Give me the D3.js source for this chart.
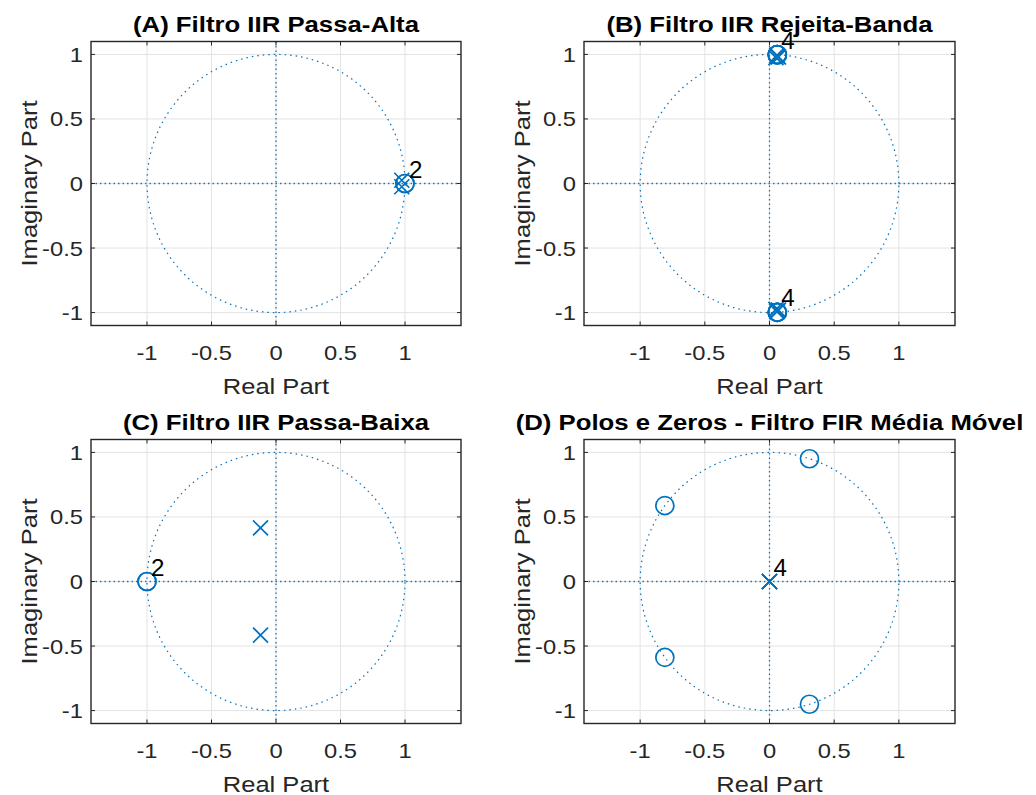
<!DOCTYPE html>
<html>
<head>
<meta charset="utf-8">
<script src="https://cdn.jsdelivr.net/npm/d3@7"></script>
<style>
  html, body { margin: 0; padding: 0; background: #fff; }
  svg { display: block; font-family: "Liberation Sans", Arial, Helvetica, sans-serif; }
</style>
</head>
<body>
<svg id="chart" width="1036" height="795"></svg>
<script>
// Pole-zero maps of four digital filters (zplane style)
const panelTitles = [
  "(A) Filtro IIR Passa-Alta",
  "(B) Filtro IIR Rejeita-Banda",
  "(C) Filtro IIR Passa-Baixa",
  "(D) Polos e Zeros - Filtro FIR Média Móvel"
];

// zeros and poles as [real, imaginary]
const zerosA = [[1, 0], [1, 0]];
const polesA = [[0.975, 0.025], [0.975, -0.025]];

const zerosB = [[0.06, 0.998], [0.06, 0.998], [0.06, 0.998], [0.06, 0.998],
                [0.06, -0.998], [0.06, -0.998], [0.06, -0.998], [0.06, -0.998]];
const polesB = [[0.05, 0.975], [0.07, 0.98], [0.055, 0.99], [0.065, 0.985],
                [0.05, -0.975], [0.07, -0.98], [0.055, -0.99], [0.065, -0.985]];

const zerosC = [[-1, 0], [-1, 0]];
const polesC = [[-0.12, 0.415], [-0.12, -0.415]];

const zerosD = [[0.309, 0.951], [-0.809, 0.588], [-0.809, -0.588], [0.309, -0.951]];
const polesD = [[0, 0], [0, 0], [0, 0], [0, 0]];

const tickValues = [-1, -0.5, 0, 0.5, 1];
const tickLabels = ["-1", "-0.5", "0", "0.5", "1"];
const xLabel = "Real Part";
const yLabel = "Imaginary Part";

const xDomain = [-1.434, 1.434];
const yDomain = [-1.1, 1.1];

const panels = [
  { title: panelTitles[0], zeros: zerosA, poles: polesA, x0: 91,  x1: 461, y0: 41.5,  y1: 325.5 },
  { title: panelTitles[1], zeros: zerosB, poles: polesB, x0: 584, x1: 955, y0: 41.5,  y1: 325.5 },
  { title: panelTitles[2], zeros: zerosC, poles: polesC, x0: 91,  x1: 461, y0: 439.5, y1: 723.5 },
  { title: panelTitles[3], zeros: zerosD, poles: polesD, x0: 584, x1: 955, y0: 439.5, y1: 723.5 }
];

const blue = "#0072BD";
const ink = "#262626";
const svg = d3.select("#chart");

// widen a text element horizontally while keeping its anchor
function widen(sel, k) {
  sel.each(function () {
    const w = this.getComputedTextLength();
    d3.select(this).attr("textLength", w * k).attr("lengthAdjust", "spacingAndGlyphs");
  });
  return sel;
}

function multiplicities(pts) {
  const groups = [];
  pts.forEach(p => {
    const g = groups.find(q => Math.abs(q.p[0] - p[0]) < 1e-6 && Math.abs(q.p[1] - p[1]) < 1e-6);
    if (g) g.n += 1; else groups.push({ p: p, n: 1 });
  });
  return groups.filter(g => g.n > 1);
}

panels.forEach((P, i) => {
  const x = d3.scaleLinear().domain(xDomain).range([P.x0, P.x1]);
  const y = d3.scaleLinear().domain(yDomain).range([P.y1, P.y0]);
  const g = svg.append("g");
  const clipId = "clip" + i;
  svg.append("clipPath").attr("id", clipId)
    .append("rect").attr("x", P.x0).attr("y", P.y0)
    .attr("width", P.x1 - P.x0).attr("height", P.y1 - P.y0);

  // grid
  const grid = g.append("g").attr("stroke", "#e3e3e3").attr("stroke-width", 1);
  tickValues.forEach(t => {
    grid.append("line").attr("x1", x(t)).attr("x2", x(t)).attr("y1", P.y0).attr("y2", P.y1);
    grid.append("line").attr("y1", y(t)).attr("y2", y(t)).attr("x1", P.x0).attr("x2", P.x1);
  });

  const plot = g.append("g").attr("clip-path", `url(#${clipId})`);

  // real and imaginary axis lines
  plot.append("line").attr("x1", P.x0).attr("x2", P.x1).attr("y1", y(0)).attr("y2", y(0))
    .attr("stroke", "#2f6f9f").attr("stroke-width", 1.3).attr("stroke-dasharray", "1.5,3");
  plot.append("line").attr("x1", x(0)).attr("x2", x(0)).attr("y1", P.y0).attr("y2", P.y1)
    .attr("stroke", "#2f6f9f").attr("stroke-width", 1.3).attr("stroke-dasharray", "1.5,3");

  // unit circle
  const circ = d3.range(0, 361, 2).map(a => [Math.cos(a * Math.PI / 180), Math.sin(a * Math.PI / 180)]);
  plot.append("path")
    .attr("d", d3.line().x(d => x(d[0])).y(d => y(d[1]))(circ))
    .attr("fill", "none").attr("stroke", blue).attr("stroke-width", 1.2)
    .attr("stroke-dasharray", "1.5,4");

  // zeros
  plot.selectAll(".zero").data(P.zeros).enter().append("circle")
    .attr("cx", d => x(d[0])).attr("cy", d => y(d[1])).attr("r", 9)
    .attr("fill", "none").attr("stroke", blue).attr("stroke-width", 1.7);

  // poles
  const s = 7.5;
  plot.selectAll(".pole").data(P.poles).enter().append("path")
    .attr("d", d => {
      const cx = x(d[0]), cy = y(d[1]);
      return `M${cx - s},${cy - s}L${cx + s},${cy + s}M${cx - s},${cy + s}L${cx + s},${cy - s}`;
    })
    .attr("fill", "none").attr("stroke", blue).attr("stroke-width", 1.7);

  // box
  g.append("rect").attr("x", P.x0).attr("y", P.y0)
    .attr("width", P.x1 - P.x0).attr("height", P.y1 - P.y0)
    .attr("fill", "none").attr("stroke", ink).attr("stroke-width", 1.4);

  // inner ticks on all sides
  const tk = g.append("g").attr("stroke", ink).attr("stroke-width", 1);
  tickValues.forEach(t => {
    tk.append("line").attr("x1", x(t)).attr("x2", x(t)).attr("y1", P.y1).attr("y2", P.y1 - 4);
    tk.append("line").attr("x1", x(t)).attr("x2", x(t)).attr("y1", P.y0).attr("y2", P.y0 + 4);
    tk.append("line").attr("y1", y(t)).attr("y2", y(t)).attr("x1", P.x0).attr("x2", P.x0 + 4);
    tk.append("line").attr("y1", y(t)).attr("y2", y(t)).attr("x1", P.x1).attr("x2", P.x1 - 4);
  });

  // tick labels
  tickValues.forEach((t, k) => {
    widen(g.append("text").attr("x", x(t)).attr("y", P.y1 + 34)
      .attr("text-anchor", "middle").attr("font-size", 21).attr("fill", ink)
      .text(tickLabels[k]), 1.13);
    widen(g.append("text").attr("x", P.x0 - 8).attr("y", y(t) + 7.5)
      .attr("text-anchor", "end").attr("font-size", 21).attr("fill", ink)
      .text(tickLabels[k]), 1.13);
  });

  // axis labels
  widen(g.append("text").attr("x", (P.x0 + P.x1) / 2).attr("y", P.y1 + 68)
    .attr("text-anchor", "middle").attr("font-size", 22).attr("fill", ink).text(xLabel), 1.16);
  widen(g.append("text")
    .attr("transform", `translate(${P.x0 - 54},${(P.y0 + P.y1) / 2}) rotate(-90)`)
    .attr("text-anchor", "middle").attr("font-size", 22).attr("fill", ink).text(yLabel), 1.16);

  // title
  widen(g.append("text").attr("x", (P.x0 + P.x1) / 2).attr("y", P.y0 - 10)
    .attr("text-anchor", "middle").attr("font-size", 22).attr("font-weight", "bold")
    .attr("fill", "#000").text(P.title), 1.17);

  // multiplicity labels
  const mult = multiplicities(P.zeros).concat(multiplicities(P.poles));
  mult.forEach(m => {
    widen(g.append("text").attr("x", x(m.p[0]) + 4).attr("y", y(m.p[1]) - 6)
      .attr("font-size", 23).attr("fill", "#000").text(m.n), 1.05);
  });
});
</script>
</body>
</html>
